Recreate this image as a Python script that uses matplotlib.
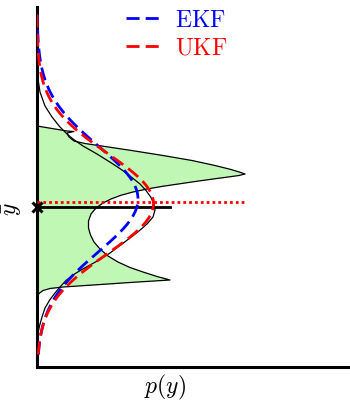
import numpy as np
import matplotlib.pyplot as plt

plt.rcParams['mathtext.fontset'] = 'cm'
plt.rcParams['font.family'] = 'serif'
plt.rcParams['font.serif'] = ['DejaVu Serif']

# density of the transformed variable (green area), from top to bottom
green_p = [0.00, 0.15, 0.30, 0.37, 0.30, 0.32, 0.37, 0.48, 0.73, 0.93, 1.26, 1.55, 1.78,
           1.94, 2.03, 2.08, 2.02, 1.93, 1.78, 1.60, 1.43, 1.26, 1.10, 0.96, 0.84, 0.74,
           0.66, 0.59, 0.54, 0.515, 0.515, 0.535, 0.57, 0.63, 0.71, 0.81, 0.93, 1.06,
           1.20, 1.33, 0.93, 0.60, 0.26, 0.13, 0.06, 0.02, 0.005, 0.00]
green_y = [1.62, 1.57, 1.52, 1.51, 1.48, 1.40, 1.32, 1.27, 1.195, 1.135, 1.03, 0.93, 0.83,
           0.75, 0.695, 0.66, 0.63, 0.605, 0.565, 0.515, 0.465, 0.415, 0.36, 0.30, 0.235,
           0.16, 0.08, -0.02, -0.14, -0.28, -0.42, -0.56, -0.70, -0.84, -0.98, -1.10,
           -1.21, -1.30, -1.39, -1.46, -1.51, -1.555, -1.60, -1.63, -1.67, -1.73, -1.79,
           -1.84]

# true density of y (thin black curve)
true_p = [0.00, 0.005, 0.01, 0.03, 0.08, 0.15, 0.23, 0.30, 0.36, 0.46, 0.53, 0.60, 0.68,
          0.76, 0.85, 0.93, 1.03, 1.09, 1.14, 1.17, 1.18, 1.16, 1.10, 1.02, 0.93, 0.83,
          0.73, 0.63, 0.53, 0.44, 0.36, 0.29, 0.23, 0.18, 0.13, 0.08, 0.05, 0.025, 0.01,
          0.00]
true_y = [2.96, 2.76, 2.56, 2.30, 2.02, 1.80, 1.60, 1.46, 1.36, 1.22, 1.14, 1.06, 0.96,
          0.86, 0.74, 0.62, 0.46, 0.33, 0.19, 0.06, -0.06, -0.20, -0.34, -0.48, -0.62,
          -0.77, -0.92, -1.05, -1.16, -1.26, -1.36, -1.47, -1.60, -1.72, -1.85, -2.02,
          -2.20, -2.38, -2.52, -2.66]

# gaussian approximations: mean, std, peak height
ekf_mean, ekf_std, ekf_peak = 0.16, 1.06, 1.01
ukf_mean, ukf_std, ukf_peak = 0.07, 1.00, 1.165

y_bar = 0.0
y_bar_len = 1.33
ukf_level = 0.10
ukf_level_len = 2.08

fig = plt.figure(figsize=(3.5, 4.02), dpi=100)
ax = fig.add_axes([37 / 350, 34 / 402, 313 / 350, 360 / 402])

ax.fill(green_p, green_y, color='#c0f7b4', lw=0, zorder=1)
ax.plot(green_p, green_y, color='k', lw=0.9, zorder=2)
ax.plot(true_p, true_y, color='k', lw=0.9, zorder=2)

yy = np.linspace(-2.95, 3.85, 400)
ekf_p = ekf_peak * np.exp(-0.5 * ((yy - ekf_mean) / ekf_std) ** 2)
ukf_p = ukf_peak * np.exp(-0.5 * ((yy - ukf_mean) / ukf_std) ** 2)
ax.plot(ekf_p, yy, color='#0000ff', lw=2, ls=(0, (4.7, 2.2)), label=r'$\mathrm{EKF}$', zorder=4)
ax.plot(ukf_p, yy, color='#ff0000', lw=2, ls=(0, (4.7, 2.2)), label=r'$\mathrm{UKF}$', zorder=5)

ax.plot([0, ukf_level_len], [ukf_level, ukf_level], color='#ff0000', lw=2,
        ls=(0, (1, 1.1)), zorder=3)
ax.plot([0, y_bar_len], [y_bar, y_bar], color='k', lw=2, zorder=3)
ax.plot(0, y_bar, 'kx', ms=7, mew=2.2, clip_on=False, zorder=6)

ax.set_xlim(0, 3.13)
ax.set_ylim(-3.2, 4.0)
ax.set_xticks([])
ax.set_yticks([])
for s in ['top', 'right']:
    ax.spines[s].set_visible(False)
for s in ['left', 'bottom']:
    ax.spines[s].set_linewidth(2.2)

ax.legend(loc='upper left', bbox_to_anchor=(0.284, 0.997), frameon=False,
          fontsize=17, handlelength=1.48, handletextpad=0.6, labelspacing=0.2,
          borderpad=0, borderaxespad=0, labelcolor='linecolor')

fig.text(165 / 350, 1 - 387 / 402, r'$p(y)$', fontsize=17, ha='center', va='center')
fig.text(12 / 350, 1 - 209 / 402, r'$\bar{y}$', fontsize=17, rotation=90,
         ha='center', va='center')

fig.savefig('out.png', dpi=100)
